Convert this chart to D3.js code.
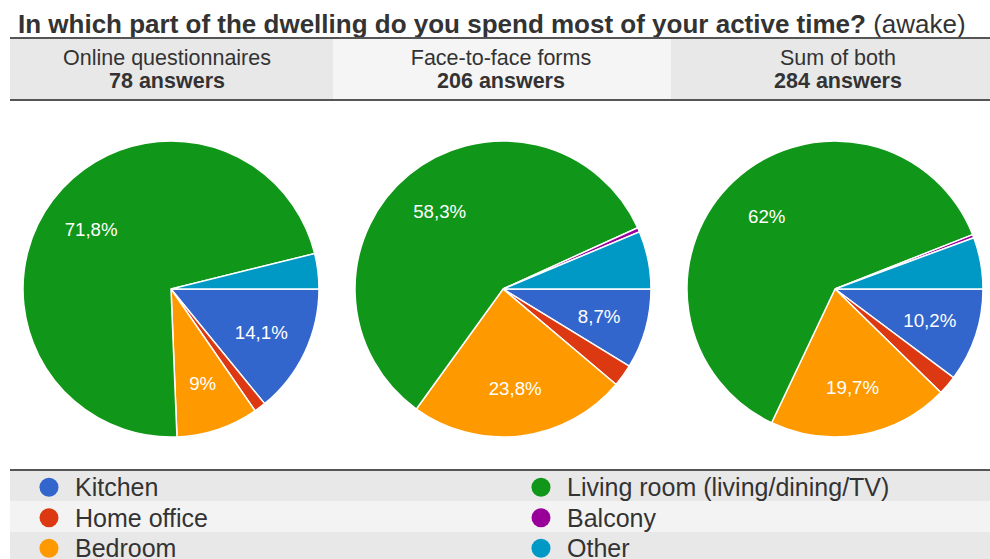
<!DOCTYPE html>
<html>
<head>
<meta charset="utf-8">
<script src="https://cdn.jsdelivr.net/npm/d3@7"></script>
<style>
  html, body { margin: 0; padding: 0; background: #fff; }
  svg { display: block; font-family: "Liberation Sans", Arial, sans-serif; }
</style>
</head>
<body>
<svg id="chart" width="990" height="559"></svg>
<script>
// Answer categories, in slice order (clockwise from 3 o'clock)
const categories = ["Kitchen", "Home office", "Bedroom", "Living room (living/dining/TV)", "Balcony", "Other"];
const colors = ["#3366cc", "#dc3912", "#ff9900", "#109618", "#990099", "#0099c6"];

// Panel headings
const groups = ["Online questionnaires", "Face-to-face forms", "Sum of both"];

// Answer counts per category for each group
const onlineCounts = [11, 1, 7, 56, 0, 3];
const faceCounts = [18, 5, 49, 120, 1, 13];
const sumCounts = [29, 6, 56, 176, 1, 16];
const seriesCounts = [onlineCounts, faceCounts, sumCounts];

const titleBold = "In which part of the dwelling do you spend most of your active time?";
const titleRest = " (awake)";

const W = 990, H = 559;
const svg = d3.select("#chart");

// Title
const title = svg.append("text")
  .attr("x", 18).attr("y", 33)
  .attr("fill", "#333").attr("font-size", 26);
title.append("tspan").attr("font-weight", "bold").text(titleBold);
title.append("tspan").text(titleRest);

// Header band with the three group cells
const headerTop = 38, headerBottom = 100;
const cellX = d3.scaleOrdinal().domain(groups).range([10, 333, 671]);
const cellW = [323, 338, 319];
const cellFill = ["#e8e8e8", "#f5f5f5", "#e8e8e8"];
const headingX = [167, 501, 838];

groups.forEach((g, i) => {
  svg.append("rect")
    .attr("x", cellX(g)).attr("y", headerTop)
    .attr("width", cellW[i]).attr("height", headerBottom - headerTop)
    .attr("fill", cellFill[i]);
  svg.append("text")
    .attr("x", headingX[i]).attr("y", 64.5)
    .attr("text-anchor", "middle").attr("fill", "#333").attr("font-size", 21.5)
    .text(g);
  const total = d3.sum(seriesCounts[i]);
  svg.append("text")
    .attr("x", headingX[i]).attr("y", 88)
    .attr("text-anchor", "middle").attr("fill", "#333").attr("font-size", 21.5)
    .attr("font-weight", "bold")
    .text(`${total} answers`);
});
svg.append("line").attr("x1", 10).attr("x2", W).attr("y1", headerTop).attr("y2", headerTop)
  .attr("stroke", "#555").attr("stroke-width", 2);
svg.append("line").attr("x1", 10).attr("x2", W).attr("y1", headerBottom).attr("y2", headerBottom)
  .attr("stroke", "#555").attr("stroke-width", 2);

// Pies
const radius = 148;
const centersX = [171, 503, 835];
const centerY = 289;
const pie = d3.pie().sort(null).value(d => d)
  .startAngle(Math.PI / 2).endAngle(Math.PI / 2 + 2 * Math.PI);
const arc = d3.arc().innerRadius(0).outerRadius(radius);
const labelArc = d3.arc().innerRadius(radius * 0.675).outerRadius(radius * 0.675);
const fmt = v => {
  const r = Math.round(v * 10) / 10;
  return (Number.isInteger(r) ? String(r) : r.toFixed(1).replace(".", ",")) + "%";
};

seriesCounts.forEach((counts, i) => {
  const total = d3.sum(counts);
  const g = svg.append("g").attr("transform", `translate(${centersX[i]},${centerY})`);
  const arcs = pie(counts);
  g.selectAll("path").data(arcs).join("path")
    .attr("d", arc)
    .attr("fill", (d, j) => colors[j])
    .attr("stroke", "#fff").attr("stroke-width", d => d.value > 0 ? 1.5 : 0);
  g.selectAll("text").data(arcs.filter(d => d.value / total > 0.08)).join("text")
    .attr("transform", d => `translate(${labelArc.centroid(d)})`)
    .attr("text-anchor", "middle").attr("dy", "0.36em")
    .attr("fill", "#fff").attr("font-size", 18.7)
    .text(d => fmt(d.value / total * 100));
});

// Legend: two columns of three rows, alternating row shading
const legendTop = 471, rowH = 30.5;
const rowFill = ["#e8e8e8", "#f3f3f3", "#e8e8e8"];
rowFill.forEach((f, r) => {
  svg.append("rect").attr("x", 10).attr("y", legendTop + r * rowH)
    .attr("width", W - 10).attr("height", rowH).attr("fill", f);
});
svg.append("line").attr("x1", 10).attr("x2", W).attr("y1", legendTop - 1).attr("y2", legendTop - 1)
  .attr("stroke", "#555").attr("stroke-width", 2);

const legendCol = [49, 541];
categories.forEach((c, j) => {
  const col = j < 3 ? 0 : 1;
  const row = j % 3;
  const ly = legendTop + row * rowH + rowH / 2 + 1;
  svg.append("circle").attr("cx", legendCol[col]).attr("cy", ly).attr("r", 9.5)
    .attr("fill", colors[j]);
  svg.append("text").attr("x", legendCol[col] + 26).attr("y", ly)
    .attr("dy", "0.36em").attr("fill", "#333").attr("font-size", 25)
    .text(c);
});
</script>
</body>
</html>
